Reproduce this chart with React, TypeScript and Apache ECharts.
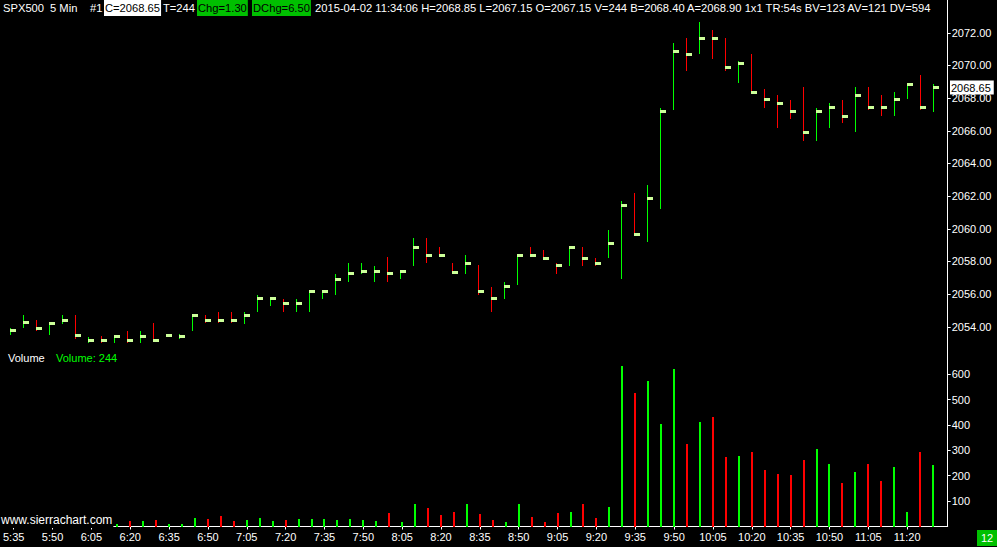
import React, { useEffect, useRef } from 'react';
import * as echarts from 'echarts';

const times = [
  '5:35', '5:40', '5:45', '5:50', '5:55',
  '6:00', '6:05', '6:10', '6:15', '6:20', '6:25', '6:30', '6:35', '6:40', '6:45', '6:50', '6:55',
  '7:00', '7:05', '7:10', '7:15', '7:20', '7:25', '7:30', '7:35', '7:40', '7:45', '7:50', '7:55',
  '8:00', '8:05', '8:10', '8:15', '8:20', '8:25', '8:30', '8:35', '8:40', '8:45', '8:50', '8:55',
  '9:00', '9:05', '9:10', '9:15', '9:20', '9:25', '9:30', '9:35', '9:40', '9:45', '9:50', '9:55',
  '10:00', '10:05', '10:10', '10:15', '10:20', '10:25', '10:30', '10:35', '10:40', '10:45', '10:50', '10:55',
  '11:00', '11:05', '11:10', '11:15', '11:20', '11:25', '11:30',
];

const highs = [
  2053.95, 2054.70, 2054.40, 2054.25, 2054.70, 2054.70, 2053.40, 2053.45, 2053.50, 2053.75,
  2053.75, 2054.25, 2053.45, 2053.55, 2054.80, 2054.70, 2054.90, 2054.90, 2054.90, 2055.95,
  2055.75, 2055.70, 2055.70, 2056.25, 2056.25, 2057.25, 2057.90, 2057.90, 2057.70, 2058.25,
  2057.45, 2059.45, 2059.45, 2058.90, 2057.90, 2058.40, 2057.80, 2056.45, 2056.75, 2058.45,
  2058.90, 2058.70, 2057.90, 2058.95, 2058.90, 2058.20, 2059.90, 2061.70, 2062.20, 2062.70,
  2067.40, 2071.40, 2071.70, 2072.65, 2072.15, 2071.70, 2070.25, 2070.70, 2068.55, 2068.20,
  2067.90, 2068.70, 2067.40, 2067.70, 2067.90, 2068.70, 2068.70, 2068.20, 2068.40, 2068.95,
  2069.40, 2068.85,
];

const lows = [
  2053.50, 2053.95, 2053.75, 2053.50, 2054.20, 2053.25, 2053.00, 2053.00, 2053.00, 2053.00,
  2053.00, 2053.10, 2053.40, 2053.25, 2053.75, 2054.25, 2054.25, 2054.25, 2054.20, 2054.90,
  2055.25, 2054.90, 2054.90, 2054.90, 2055.70, 2055.95, 2056.75, 2057.25, 2056.75, 2056.75,
  2056.90, 2057.75, 2057.90, 2058.35, 2057.25, 2057.25, 2055.95, 2054.90, 2055.70, 2056.55,
  2058.25, 2058.10, 2057.25, 2057.70, 2057.70, 2057.70, 2058.20, 2056.95, 2059.60, 2059.20,
  2061.20, 2067.25, 2069.65, 2070.70, 2070.40, 2069.65, 2068.90, 2068.30, 2067.40, 2066.20,
  2066.70, 2065.40, 2065.40, 2066.20, 2066.45, 2065.95, 2067.30, 2066.90, 2066.90, 2067.95,
  2067.25, 2067.15,
];

const closes = [
  2053.75, 2054.25, 2053.90, 2054.20, 2054.40, 2053.45, 2053.15, 2053.15, 2053.40, 2053.15,
  2053.40, 2053.15, 2053.45, 2053.40, 2054.70, 2054.40, 2054.40, 2054.40, 2054.70, 2055.75,
  2055.75, 2055.45, 2055.45, 2056.15, 2056.15, 2056.90, 2057.25, 2057.40, 2057.40, 2057.25,
  2057.40, 2058.85, 2058.35, 2058.35, 2057.30, 2057.90, 2056.15, 2055.75, 2056.45, 2058.35,
  2058.35, 2058.20, 2057.75, 2058.85, 2058.20, 2057.90, 2059.10, 2061.40, 2059.65, 2061.85,
  2067.20, 2070.85, 2070.70, 2071.65, 2071.65, 2069.90, 2070.10, 2068.35, 2067.90, 2067.70,
  2067.20, 2065.90, 2067.20, 2067.40, 2066.90, 2068.15, 2067.40, 2067.40, 2067.90, 2068.85,
  2067.40, 2068.65,
];

// 1 = green (up) bar, 0 = red (down) bar
const upBars = [
  1, 1, 0, 1, 1, 0, 1, 0, 1, 0,
  1, 0, 1, 1, 1, 0, 0, 0, 1, 1,
  1, 0, 1, 1, 1, 1, 1, 1, 1, 0,
  1, 1, 0, 0, 0, 1, 0, 0, 1, 1,
  0, 0, 0, 1, 0, 0, 1, 1, 0, 1,
  1, 1, 0, 1, 0, 0, 1, 0, 0, 0,
  0, 0, 1, 1, 0, 1, 0, 0, 1, 1,
  0, 1,
];

const volumes = [
  14, 12, 10, 12, 10, 16, 10, 12, 11, 20,
  20, 24, 8, 8, 33, 28, 43, 20, 24, 33,
  20, 24, 28, 28, 28, 24, 28, 24, 20, 55,
  16, 89, 72, 47, 59, 89, 51, 24, 16, 90,
  39, 16, 55, 59, 87, 33, 75, 630, 524, 572,
  402, 622, 323, 413, 433, 272, 276, 295, 224, 205,
  201, 260, 307, 248, 173, 213, 248, 181, 236, 59,
  295, 244,
];

const priceTicks = [2054, 2056, 2058, 2060, 2062, 2064, 2066, 2068, 2070, 2072];
const volumeTicks = [100, 200, 300, 400, 500, 600];

const headerLeft = 'SPX500';
const headerPeriod = '5 Min';
const headerNum = '#1';
const headerClose = 'C=2068.65';
const headerTrades = 'T=244';
const headerChg = 'Chg=1.30';
const headerDChg = 'DChg=6.50';
const headerRest = '2015-04-02 11:34:06 H=2068.85 L=2067.15 O=2067.15 V=244 B=2068.40 A=2068.90 1x1 TR:54s BV=123 AV=121 DV=594';

const UP = '#00ff00';
const DOWN = '#ff0000';
const TICK = '#ccff99';
const BOXGREEN = '#00c000';
const FONT = "'Liberation Sans', Arial, sans-serif";

export default function App() {
  const ref = useRef<HTMLDivElement>(null);

  useEffect(() => {
    const el = ref.current;
    if (!el) return;
    const chart = echarts.init(el, null, { renderer: 'svg' });

    const n = times.length;
    const xMin = -0.77;
    const xMax = 72.13;
    const labelIdx = times.map((_, i) => i).filter((i) => i % 3 === 0);
    const ohlcData = times.map((_, i) => [i, highs[i], lows[i], closes[i], upBars[i]]);
    const volData = times.map((_, i) => [i, volumes[i], upBars[i]]);

    const axisText = { color: '#ffffff', fontSize: 11, fontFamily: FONT };
    const whiteLine = { show: true, onZero: false, lineStyle: { color: '#ffffff', width: 1 } };

    chart.setOption({
      animation: false,
      backgroundColor: '#000000',
      grid: [
        { left: 0, top: 0.14, width: 947.7, height: 359.3 },
        { left: 0, top: 348.7, width: 947.7, height: 177.8 },
      ],
      xAxis: [
        { type: 'value', gridIndex: 0, min: xMin, max: xMax, show: false, axisLine: { onZero: false } },
        {
          type: 'value', gridIndex: 1, min: xMin, max: xMax,
          axisLine: whiteLine,
          axisTick: { show: true, customValues: labelIdx, length: 3, lineStyle: { color: '#ffffff' } },
          axisLabel: {
            customValues: labelIdx, margin: 5, ...axisText,
            formatter: (v: number) => times[Math.round(v)] ?? '',
          },
          splitLine: { show: false },
        },
      ],
      yAxis: [
        {
          type: 'value', gridIndex: 0, position: 'right', min: 2052, max: 2074,
          axisLine: whiteLine,
          axisTick: { show: true, customValues: priceTicks, length: 3, lineStyle: { color: '#ffffff' } },
          axisLabel: { customValues: priceTicks, margin: 4, ...axisText, formatter: (v: number) => v.toFixed(2) },
          splitLine: { show: false },
        },
        {
          type: 'value', gridIndex: 1, position: 'right', min: 0, max: 700,
          axisLine: whiteLine,
          axisTick: { show: true, customValues: volumeTicks, length: 3, lineStyle: { color: '#ffffff' } },
          axisLabel: { customValues: volumeTicks, margin: 4, ...axisText, formatter: (v: number) => String(v) },
          splitLine: { show: false },
        },
      ],
      series: [
        {
          type: 'custom', name: 'Price', xAxisIndex: 0, yAxisIndex: 0,
          data: ohlcData, encode: { x: 0, y: [1, 2, 3] },
          renderItem: (_params: any, api: any) => {
            const i = api.value(0);
            const top = api.coord([i, api.value(1)]);
            const bot = api.coord([i, api.value(2)]);
            const cl = api.coord([i, api.value(3)]);
            const color = api.value(4) ? UP : DOWN;
            const x = Math.round(top[0]);
            return {
              type: 'group',
              children: [
                { type: 'rect', shape: { x, y: Math.round(top[1]), width: 1, height: Math.max(Math.round(bot[1]) - Math.round(top[1]), 1) }, style: { fill: color } },
                { type: 'rect', shape: { x, y: Math.round(cl[1] - 1.5), width: 6, height: 3 }, style: { fill: TICK } },
              ],
            };
          },
        },
        {
          type: 'custom', name: 'Volume', xAxisIndex: 1, yAxisIndex: 1,
          data: volData, encode: { x: 0, y: 1 },
          renderItem: (_params: any, api: any) => {
            const i = api.value(0);
            const top = api.coord([i, api.value(1)]);
            const base = api.coord([i, 0]);
            const color = api.value(2) ? UP : DOWN;
            return {
              type: 'rect',
              shape: { x: Math.round(base[0]) - 1, y: Math.round(top[1]), width: 2, height: Math.round(base[1]) - Math.round(top[1]) },
              style: { fill: color },
            };
          },
        },
      ],
    });

    const yC = chart.convertToPixel({ yAxisIndex: 0 }, closes[n - 1]) as number;
    const txt = (x: number, y: number, text: string, extra: any = {}, size = 11) => ({
      type: 'text', x, y, z: 100,
      style: { text, fill: '#ffffff', font: `${size}px ${FONT}`, verticalAlign: 'middle', align: 'left', lineHeight: 14, ...extra },
    });

    chart.setOption({
      graphic: [
        txt(3, 8, headerLeft, {}, 11.2),
        txt(50, 8, headerPeriod, {}, 11.2),
        txt(90, 8, headerNum, {}, 11.2),
        txt(104, 8, headerClose, { fill: '#000000', backgroundColor: '#ffffff', padding: [1, 1, 1, 1] }, 11.2),
        txt(163, 8, headerTrades, {}, 11.2),
        txt(197, 8, headerChg, { fill: '#000000', backgroundColor: BOXGREEN, padding: [1, 1, 1, 1] }, 11.2),
        txt(252, 8, headerDChg, { fill: '#000000', backgroundColor: BOXGREEN, padding: [1, 1, 1, 1] }, 11.2),
        txt(315, 8, headerRest, {}, 11.2),
        txt(8, 358, 'Volume'),
        txt(56, 358, `Volume: ${volumes[n - 1]}`, { fill: UP }),
        txt(1, 520, 'www.sierrachart.com', { backgroundColor: '#000000', padding: [1, 1, 1, 0] }, 12),
        txt(950, yC, closes[n - 1].toFixed(2), { fill: '#000000', backgroundColor: '#ffffff', padding: [0, 3, 0, 1] }),
        txt(977, 538, '12', { backgroundColor: BOXGREEN, padding: [1, 4, 1, 4] }),
      ],
    });

    return () => chart.dispose();
  }, []);

  return (
    <div
      ref={ref}
      style={{ position: 'fixed', left: 0, top: 0, width: 997, height: 547, background: '#000000' }}
    />
  );
}
